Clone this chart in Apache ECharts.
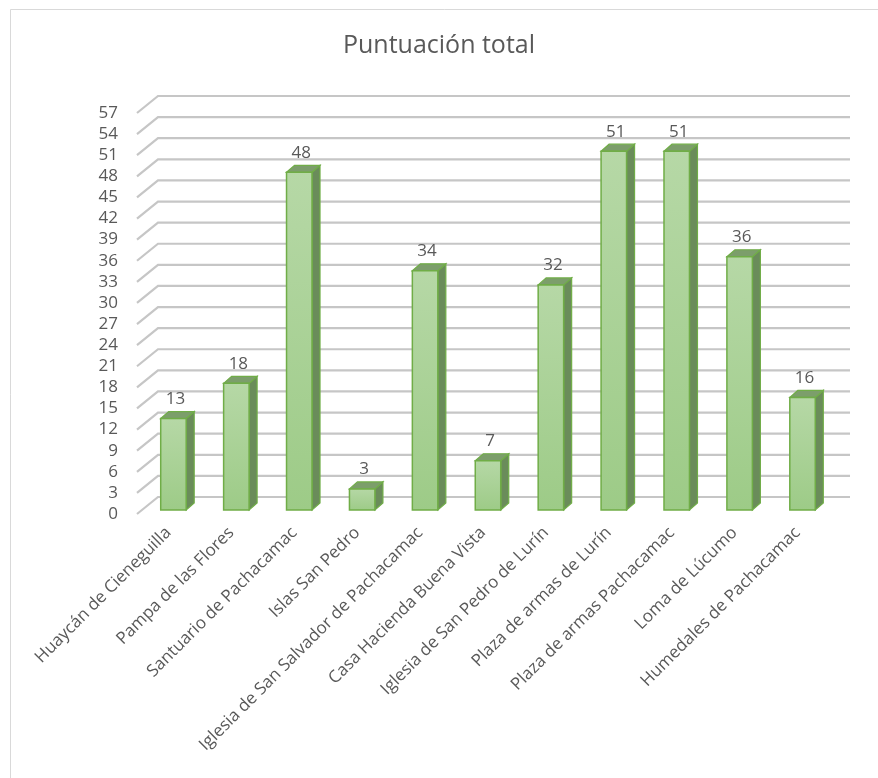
<!DOCTYPE html>
<html>
<head>
<meta charset="utf-8">
<script src="https://cdn.jsdelivr.net/npm/echarts@6/dist/echarts.min.js"></script>
<style>html,body{margin:0;padding:0;background:#fff;}#c{width:878px;height:778px;}</style>
</head>
<body>
<div id="c"></div>
<script>
const categories = ["Huaycán de Cieneguilla","Pampa de las Flores","Santuario de Pachacamac","Islas San Pedro","Iglesia de San Salvador de Pachacamac","Casa Hacienda Buena Vista","Iglesia de San Pedro de Lurín","Plaza de armas de Lurín","Plaza de armas Pachacamac","Loma de Lúcumo","Humedales de Pachacamac"];
const values = [13,18,48,3,34,7,32,51,51,36,16];
const yTicks = [0,3,6,9,12,15,18,21,24,27,30,33,36,39,42,45,48,51,54,57];

const FONT = '"Open Sans", "Noto Sans", sans-serif';
const WALL_DX = 21, WALL_DY = -17;   // depth of the floor/back wall
const BAR_OX = 5, BAR_OY = -4;       // bar front plane offset
const BAR_DX = 8, BAR_DY = -7;       // bar depth

const chart = echarts.init(document.getElementById('c'), null, {renderer:'canvas'});

const option = {
  backgroundColor: '#ffffff',
  animation: false,
  title: {
    text: 'Puntuación total',
    left: 'center', top: 28,
    textStyle: {fontFamily: FONT, fontSize: 25, fontWeight: 'normal', color: '#595959'}
  },
  graphic: [{
    type: 'rect', z: -10,
    shape: {x: 10.5, y: 9.5, width: 900, height: 900},
    style: {fill: 'none', stroke: '#d9d9d9', lineWidth: 1}
  }],
  grid: {left: 137, right: 49, top: 113, bottom: 264, containLabel: false},
  xAxis: {
    type: 'category', data: categories,
    axisLine: {show: false}, axisTick: {show: false}, splitLine: {show: false},
    axisLabel: {interval: 0, rotate: 45, margin: 16, fontFamily: FONT, fontSize: 17, color: '#595959'}
  },
  yAxis: {
    type: 'value', min: 0, max: 57, interval: 3,
    axisLine: {show: false}, axisTick: {show: false}, splitLine: {show: false},
    axisLabel: {margin: 19, fontFamily: FONT, fontSize: 17, color: '#595959'}
  },
  series: [
    {
      type: 'custom', name: 'grid', z: 1, silent: true,
      data: yTicks.map(v => [0, v]),
      renderItem: function (params, api) {
        const cs = params.coordSys;
        const p = api.coord([0, api.value(1)]);
        const y = p[1];
        const x0 = cs.x;
        const x1 = cs.x + cs.width;
        return {
          type: 'polyline',
          shape: {points: [[x0, y], [x0 + WALL_DX, y + WALL_DY], [x1 + WALL_DX, y + WALL_DY]]},
          style: {stroke: '#c6c6c6', lineWidth: 2.2, fill: null}
        };
      }
    },
    {
      type: 'custom', name: 'Puntuación total', z: 2,
      data: values.map((v, i) => [i, v]),
      renderItem: function (params, api) {
        const i = api.value(0), v = api.value(1);
        const top = api.coord([i, v]);
        const base = api.coord([i, 0]);
        const band = api.size([1, 0])[0];
        const w = band * 0.405;
        const xl = top[0] - w / 2 + BAR_OX, xr = xl + w;
        const yt = top[1] + BAR_OY, yb = base[1] + BAR_OY;
        const stroke = '#70ad47';
        return {
          type: 'group',
          children: [
            {
              type: 'polygon',
              shape: {points: [[xr, yt], [xr + BAR_DX, yt + BAR_DY], [xr + BAR_DX, yb + BAR_DY], [xr, yb]]},
              style: {fill: '#6a8c5a', stroke: stroke, lineWidth: 1.2}
            },
            {
              type: 'polygon',
              shape: {points: [[xl, yt], [xl + BAR_DX, yt + BAR_DY], [xr + BAR_DX, yt + BAR_DY], [xr, yt]]},
              style: {fill: '#7c9e6b', stroke: stroke, lineWidth: 1.2}
            },
            {
              type: 'rect',
              shape: {x: xl, y: yt, width: w, height: yb - yt},
              style: {
                fill: new echarts.graphic.LinearGradient(0, 0, 0, 1, [
                  {offset: 0, color: '#b6d8a6'},
                  {offset: 1, color: '#9dcb87'}
                ]),
                stroke: stroke, lineWidth: 1.5
              }
            },
            {
              type: 'text',
              style: {
                text: String(v), x: (xl + xr) / 2 + 2, y: yt + BAR_DY - 4,
                align: 'center', verticalAlign: 'bottom',
                fontFamily: FONT, fontSize: 17, fill: '#595959'
              }
            }
          ]
        };
      }
    }
  ]
};
chart.setOption(option);
</script>
</body>
</html>
